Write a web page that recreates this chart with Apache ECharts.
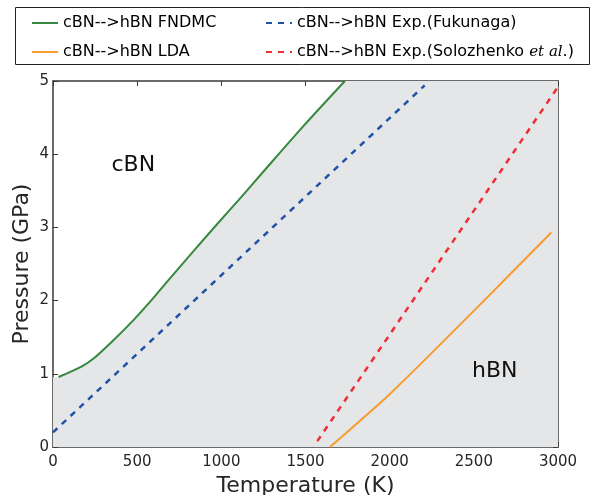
<!DOCTYPE html>
<html>
<head>
<meta charset="utf-8">
<script src="https://cdn.jsdelivr.net/npm/echarts@6/dist/echarts.min.js"></script>
<style>html,body{margin:0;padding:0;background:#fff}#c{width:592px;height:495px}</style>
</head>
<body>
<div id="c"></div>
<script>
// ---- data ----
const xTicks = [0, 500, 1000, 1500, 2000, 2500, 3000];
const yTicks = [0, 1, 2, 3, 4, 5];
const seriesNames = [
  'cBN-->hBN FNDMC',
  'cBN-->hBN LDA',
  'cBN-->hBN Exp.(Fukunaga)',
  'cBN-->hBN Exp.(Solozhenko {it|et al}.)'
];
const fndmcT = [33, 172, 241, 359, 478, 577, 686, 973, 1101, 1249, 1486, 1734];
const fndmcP = [0.956, 1.103, 1.208, 1.459, 1.733, 1.985, 2.281, 3.04, 3.37, 3.76, 4.38, 5.0];
const ldaT = [1645, 1800, 2000, 2500, 2960];
const ldaP = [0.0, 0.31, 0.72, 1.86, 2.93];
const fukuT = [0, 2208];
const fukuP = [0.2, 4.94];
const soloT = [1570, 3000];
const soloP = [0.08, 4.92];
const regionLabels = [
  {text: 'cBN', T: 477, P: 3.85},
  {text: 'hBN', T: 2624, P: 1.03}
];

const zip = (a, b) => a.map((v, i) => [v, b[i]]);
// gray region: below the FNDMC boundary, closed at the plot top / right / bottom
const fillPoly = [[0, 0], [0, fndmcP[0]]].concat(zip(fndmcT, fndmcP), [[3000, 5], [3000, 0]]);

const FONT = 'DejaVu Sans';
const txt = '#262626';
const axisCol = '#3a3a3a';

const chart = echarts.init(document.getElementById('c'), null, {renderer: 'canvas'});

const baseX = {
  type: 'value', min: 0, max: 3000, interval: 500,
  axisLine: {show: true, onZero: false, lineStyle: {color: axisCol, width: 1.5}},
  axisTick: {show: true, inside: true, length: 5, lineStyle: {color: axisCol, width: 1}},
  splitLine: {show: false}, splitArea: {show: false}
};
const baseY = {
  type: 'value', min: 0, max: 5, interval: 1,
  axisLine: {show: true, onZero: false, lineStyle: {color: axisCol, width: 1.5}},
  axisTick: {show: true, inside: true, length: 5, lineStyle: {color: axisCol, width: 1}},
  splitLine: {show: false}, splitArea: {show: false}
};

const colors = {
  green: '#35883f',
  orange: '#f89b2e',
  blue: '#2052a8',
  red: '#ef2d34'
};

const legendText = {
  color: '#000', fontFamily: FONT, fontSize: 16,
  rich: {it: {fontFamily: 'DejaVu Serif', fontStyle: 'italic', fontSize: 15, color: '#000'}}
};
const legendBase = {
  orient: 'vertical', top: 10, itemWidth: 26, itemHeight: 14, itemGap: 13,
  textStyle: legendText, itemStyle: {opacity: 0}, selectedMode: false
};

chart.setOption({
  animation: false,
  grid: {left: 53, right: 34, top: 81, bottom: 48, containLabel: false, outerBoundsMode: 'none'},
  xAxis: [
    Object.assign({}, baseX, {
      position: 'bottom',
      name: 'Temperature (K)', nameLocation: 'middle', nameGap: 25,
      nameTextStyle: {fontFamily: FONT, fontSize: 22, color: txt},
      axisLabel: {show: true, fontFamily: FONT, fontSize: 15, color: txt, margin: 8,
        formatter: v => xTicks.includes(v) ? String(v) : ''}
    }),
    Object.assign({}, baseX, {position: 'top', axisLabel: {show: false}})
  ],
  yAxis: [
    Object.assign({}, baseY, {
      position: 'left',
      name: 'Pressure (GPa)', nameLocation: 'middle', nameGap: 20, nameMoveOverlap: false,
      nameTextStyle: {fontFamily: FONT, fontSize: 22, color: txt},
      axisLabel: {show: true, fontFamily: FONT, fontSize: 15, color: txt, margin: 4,
        formatter: v => yTicks.includes(v) ? String(v) : ''}
    }),
    Object.assign({}, baseY, {position: 'right', axisLabel: {show: false}})
  ],
  legend: [
    Object.assign({}, legendBase, {left: 26, data: [seriesNames[0], seriesNames[1]]}),
    Object.assign({}, legendBase, {left: 260, data: [seriesNames[2], seriesNames[3]]})
  ],
  graphic: [
    {type: 'rect', shape: {x: 15.5, y: 7.5, width: 574, height: 57},
      style: {fill: 'none', stroke: '#222', lineWidth: 1}, z: 0}
  ],
  series: [
    {
      name: '_fill', type: 'custom', silent: true, z: 1, clip: true,
      data: [[0, 0]],
      renderItem: (params, api) => ({
        type: 'polygon',
        shape: {points: fillPoly.map(p => api.coord(p))},
        style: {fill: '#e5e6e8', stroke: 'none'}
      })
    },
    {
      name: '_labels', type: 'custom', silent: true, z: 5,
      data: regionLabels.map(r => [r.T, r.P]),
      renderItem: (params, api) => {
        const p = api.coord([api.value(0), api.value(1)]);
        return {
          type: 'text', x: p[0], y: p[1],
          style: {text: regionLabels[params.dataIndex].text, fontFamily: FONT, fontSize: 22,
            fill: '#111', align: 'center', verticalAlign: 'middle'}
        };
      }
    },
    {
      name: seriesNames[0], type: 'line', data: zip(fndmcT, fndmcP), symbol: 'none',
      smooth: 0.25, color: colors.green, lineStyle: {color: colors.green, width: 2}, z: 3
    },
    {
      name: seriesNames[1], type: 'line', data: zip(ldaT, ldaP), symbol: 'none',
      smooth: 0.3, color: colors.orange, lineStyle: {color: colors.orange, width: 2}, z: 3
    },
    {
      name: seriesNames[2], type: 'line', data: zip(fukuT, fukuP), symbol: 'none',
      color: colors.blue, lineStyle: {color: colors.blue, width: 2.5, type: [6, 6]}, z: 3
    },
    {
      name: seriesNames[3], type: 'line', data: zip(soloT, soloP), symbol: 'none',
      color: colors.red, lineStyle: {color: colors.red, width: 2.5, type: [6, 6]}, z: 3
    }
  ]
});
</script>
</body>
</html>
